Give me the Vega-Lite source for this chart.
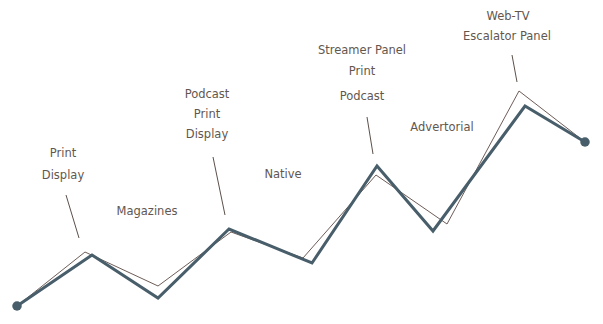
{
  "$schema": "https://vega.github.io/schema/vega-lite/v6.json",
  "width": 603,
  "height": 324,
  "autosize": {"type": "fit", "contains": "padding"},
  "padding": 0,
  "background": "white",
  "config": {"view": {"stroke": null}},
  "datasets": {
    "sketch": [
      {"x": 17, "y": 18}, {"x": 85, "y": 72}, {"x": 158, "y": 38}, {"x": 231, "y": 92},
      {"x": 303, "y": 66}, {"x": 376, "y": 149}, {"x": 447, "y": 100}, {"x": 519, "y": 233},
      {"x": 585, "y": 182}
    ],
    "main": [
      {"x": 17, "y": 18}, {"x": 92, "y": 69}, {"x": 158, "y": 26}, {"x": 229, "y": 95},
      {"x": 312, "y": 61}, {"x": 377, "y": 158}, {"x": 433, "y": 93}, {"x": 525, "y": 218},
      {"x": 585, "y": 182}
    ],
    "ends": [{"x": 17, "y": 18}, {"x": 585, "y": 182}],
    "leaders": [
      {"x": 66, "y": 129, "x2": 79, "y2": 86},
      {"x": 213, "y": 167, "x2": 225, "y2": 109},
      {"x": 367, "y": 207, "x2": 373, "y2": 170},
      {"x": 512, "y": 269, "x2": 517, "y2": 242}
    ],
    "labels": [
      {"x": 63, "y": 170, "text": "Print"},
      {"x": 63, "y": 148, "text": "Display"},
      {"x": 147, "y": 112, "text": "Magazines"},
      {"x": 207, "y": 229, "text": "Podcast"},
      {"x": 207, "y": 209, "text": "Print"},
      {"x": 207, "y": 189, "text": "Display"},
      {"x": 283, "y": 149, "text": "Native"},
      {"x": 362, "y": 273, "text": "Streamer Panel"},
      {"x": 362, "y": 252, "text": "Print"},
      {"x": 362, "y": 227, "text": "Podcast"},
      {"x": 442, "y": 196, "text": "Advertorial"},
      {"x": 508, "y": 307, "text": "Web-TV"},
      {"x": 507, "y": 287, "text": "Escalator Panel"}
    ]
  },
  "layer": [
    {
      "data": {"name": "sketch"},
      "mark": {"type": "line", "color": "#6e5d58", "strokeWidth": 1},
      "encoding": {
        "x": {"field": "x", "type": "quantitative", "scale": {"domain": [0, 603], "nice": false, "zero": false}, "axis": null},
        "y": {"field": "y", "type": "quantitative", "scale": {"domain": [0, 324], "nice": false, "zero": false}, "axis": null}
      }
    },
    {
      "data": {"name": "main"},
      "mark": {"type": "line", "color": "#485e6a", "strokeWidth": 3, "strokeJoin": "miter"},
      "encoding": {
        "x": {"field": "x", "type": "quantitative"},
        "y": {"field": "y", "type": "quantitative"}
      }
    },
    {
      "data": {"name": "ends"},
      "mark": {"type": "circle", "color": "#485e6a", "opacity": 1, "size": 90},
      "encoding": {
        "x": {"field": "x", "type": "quantitative"},
        "y": {"field": "y", "type": "quantitative"}
      }
    },
    {
      "data": {"name": "leaders"},
      "mark": {"type": "rule", "color": "#5b504a", "strokeWidth": 1},
      "encoding": {
        "x": {"field": "x", "type": "quantitative"},
        "y": {"field": "y", "type": "quantitative"},
        "x2": {"field": "x2"},
        "y2": {"field": "y2"}
      }
    },
    {
      "data": {"name": "labels"},
      "mark": {"type": "text", "font": "DejaVu Sans", "fontSize": 11.5, "color": "#62574f", "align": "center", "baseline": "middle"},
      "encoding": {
        "x": {"field": "x", "type": "quantitative"},
        "y": {"field": "y", "type": "quantitative"},
        "text": {"field": "text"}
      }
    }
  ]
}
